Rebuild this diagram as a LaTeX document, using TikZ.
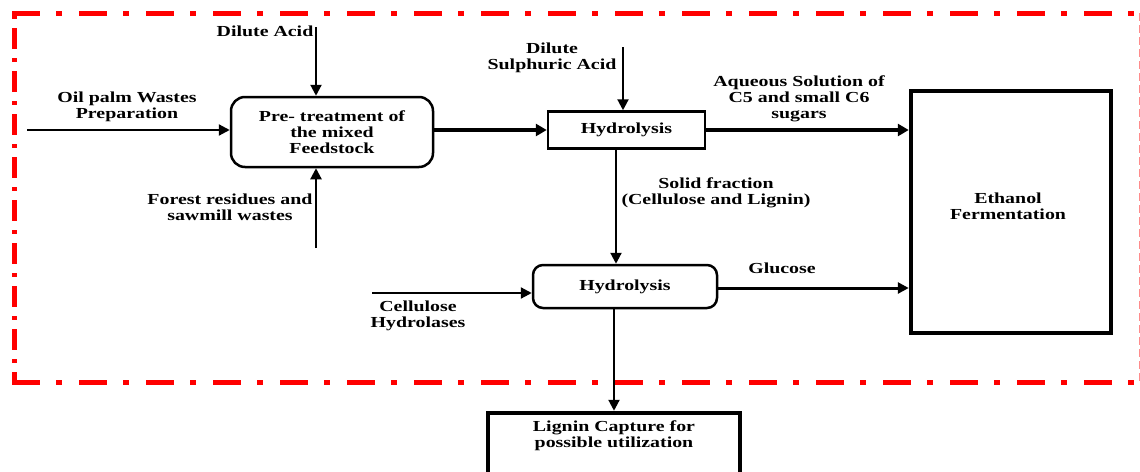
\documentclass[tikz,border=0pt]{standalone}
\usepackage{fontspec}
\setmainfont{Liberation Serif}[FakeStretch=1.3]
\usetikzlibrary{arrows.meta}
\begin{document}
\begin{tikzpicture}[x=1pt,y=-1pt,
  lbl/.style={font=\fontsize{15.3}{16}\selectfont\bfseries, align=center, inner sep=0pt},
  arr/.style={line width=2.2pt, -{Triangle[length=11pt,width=11pt]}},
  thickarr/.style={line width=3.5pt, -{Triangle[length=11pt,width=12pt]}},
  rbox/.style={draw, line width=2.5pt, rounded corners=14pt, lbl},
  sbox/.style={draw, line width=2.5pt, lbl},
  bigbox/.style={draw, line width=4.5pt, lbl},
  hborder/.style={red, line width=5pt, dash pattern=on 28pt off 16pt on 6pt off 17pt},
  vborder/.style={red, line width=5pt, dash pattern=on 4pt off 9pt on 21pt off 9pt}]
\useasboundingbox (0,0) rectangle (1140,471);
\clip (0,0) rectangle (1140,471);

% red dash-dot border
\draw[hborder] (12,13) -- (1140,13);
\draw[hborder] (12,382) -- (1140,382);
\draw[vborder] (14,15) -- (14,384);
\draw[red!45, line width=1pt, dash pattern=on 8pt off 4pt] (1139,13) -- (1139,382);

% boxes
\node[rbox, minimum width=202pt, minimum height=70pt] (pre) at (332,132) {Pre- treatment of\\the mixed\\Feedstock};
\node[sbox, minimum width=157pt, minimum height=37pt] (hyd1) at (626.5,130) {Hydrolysis};
\node[rbox, rounded corners=10pt, minimum width=184pt, minimum height=43pt] (hyd2) at (625,286.5) {Hydrolysis};
\node[bigbox, minimum width=200pt, minimum height=242pt] (eth) at (1011,212) {};
\node[lbl] (ethtxt) at (1008,206) {Ethanol\\Fermentation};
\node[bigbox, minimum width=252pt, minimum height=90pt] (lig) at (614,458) {};
\node[lbl] (ligtxt) at (614,436) {Lignin Capture for\\possible utilization};

% labels
\node[lbl] (l1) at (265,31) {Dilute Acid};
\node[lbl] (l2) at (127,107) {Oil palm Wastes\\Preparation};
\node[lbl] (l3) at (230,207) {Forest residues and\\sawmill wastes};
\node[lbl] (l4) at (552,58) {Dilute\\Sulphuric Acid};
\node[lbl] (l5) at (799,99) {Aqueous Solution of\\C5 and small C6\\sugars};
\node[lbl] (l6) at (716,193) {Solid fraction\\(Cellulose and Lignin)};
\node[lbl] (l7) at (418,316) {Cellulose\\Hydrolases};
\node[lbl] (l8) at (782,268) {Glucose};

% free ends
\coordinate (da) at (316,27);
\coordinate (fr) at (316,248);
\coordinate (op) at (27,130);
\coordinate (dsa) at (623,47);
\coordinate (ce) at (372,293);

% connectors
\draw[arr] (da) -- (da |- pre.north);
\draw[arr] (fr) -- (fr |- pre.south);
\draw[arr] (op) -- (op -| pre.west);
\draw[thickarr] (pre.east |- hyd1.west) -- (hyd1.west);
\draw[arr] (dsa) -- (dsa |- hyd1.north);
\draw[thickarr] (hyd1.east) -- (hyd1.east -| eth.west);
\draw[arr] ([xshift=-10.5pt]hyd1.south) -- ([xshift=-10.5pt]hyd1.south |- hyd2.north);
\draw[arr] (ce) -- (ce -| hyd2.west);
\draw[arr, line width=3pt] ([yshift=-1.5pt]hyd2.east) -- ([yshift=-1.5pt]hyd2.east -| eth.west);
\draw[arr] ([xshift=-11pt]hyd2.south) -- ([xshift=-11pt]hyd2.south |- lig.north);
\end{tikzpicture}
\end{document}
